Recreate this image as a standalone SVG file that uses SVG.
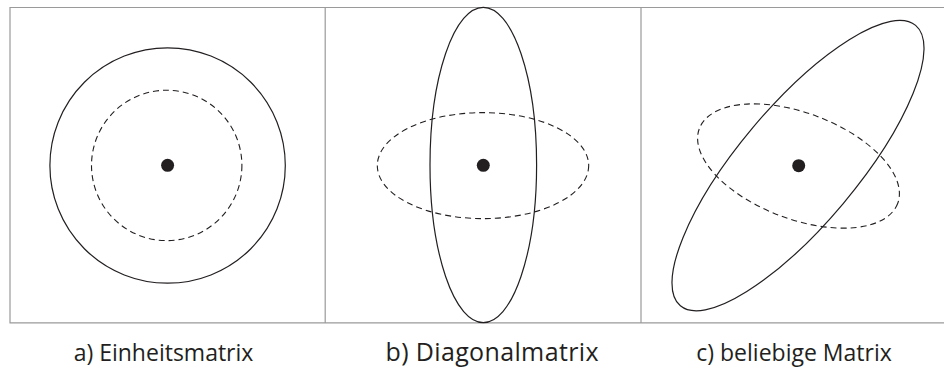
<svg xmlns="http://www.w3.org/2000/svg" width="944" height="367" viewBox="0 0 944 367">
  <style>
    .frame { fill: none; stroke: #9a9a9a; stroke-width: 1.2; }
    .solid { fill: none; stroke: #231f20; stroke-width: 1.2; }
    .dash { fill: none; stroke: #231f20; stroke-width: 1.1; stroke-dasharray: 6 4; }
    .dot { fill: #231f20; }
    .label { font-family: "Open Sans", "Liberation Sans", sans-serif; font-size: 23px; fill: #231f20; text-anchor: middle; }
  </style>
  <rect width="944" height="367" fill="#ffffff"/>
  <g id="frame">
    <path class="frame" d="M950 7.5 H10 V322.8 H950 M325.2 7.5 V322.8 M641 7.5 V322.8"/>
  </g>
  <g id="panel-a">
    <circle class="solid" cx="167.6" cy="165.5" r="117.7"/>
    <circle class="dash" cx="166.7" cy="165.4" r="75.2"/>
    <circle class="dot" cx="167.6" cy="165.3" r="6.5"/>
    <text class="label" x="163.5" y="361">a) Einheitsmatrix</text>
  </g>
  <g id="panel-b">
    <ellipse class="solid" cx="483.3" cy="165" rx="53.3" ry="157.6"/>
    <ellipse class="dash" cx="483" cy="165.6" rx="105.7" ry="53"/>
    <circle class="dot" cx="483.3" cy="165.3" r="6.5"/>
    <text class="label" x="492" y="361" style="font-size:25px" textLength="213">b) Diagonalmatrix</text>
  </g>
  <g id="panel-c">
    <ellipse class="solid" cx="798" cy="165.6" rx="183" ry="59" transform="rotate(-50 798 165.6)"/>
    <ellipse class="dash" cx="798.5" cy="166" rx="106" ry="53" transform="rotate(20.7 798.5 166)"/>
    <circle class="dot" cx="798.7" cy="165.7" r="6.5"/>
    <text class="label" x="794" y="361">c) beliebige Matrix</text>
  </g>
</svg>
